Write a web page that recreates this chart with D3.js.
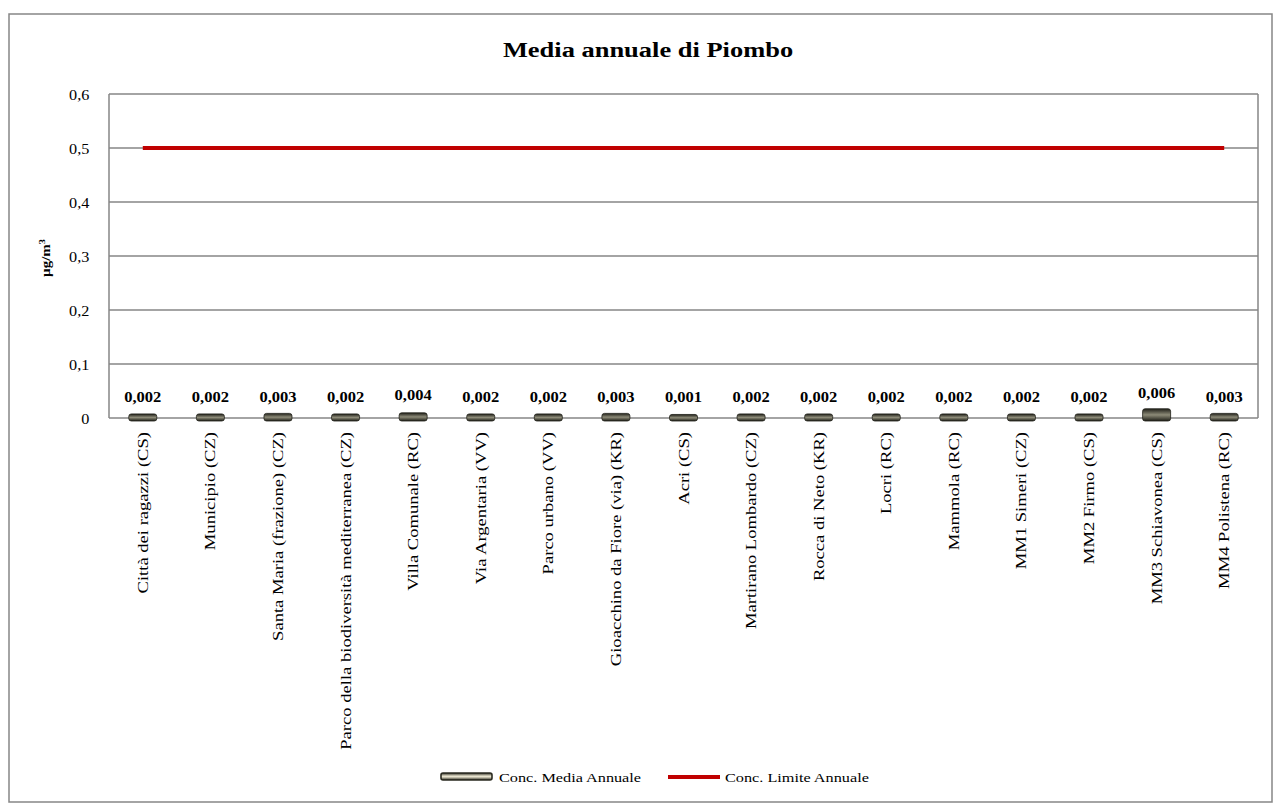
<!DOCTYPE html>
<html><head><meta charset="utf-8">
<script src="https://cdn.jsdelivr.net/npm/d3@7"></script>
<style>body{margin:0;background:#fff}svg{display:block}text{font-family:"Liberation Serif","Times New Roman",serif}</style>
</head><body><svg id="c" width="1274" height="804"></svg>
<script>
const categories = ["Città dei ragazzi (CS)","Municipio (CZ)","Santa Maria (frazione) (CZ)","Parco della biodiversità mediterranea (CZ)","Villa Comunale (RC)","Via Argentaria (VV)","Parco urbano (VV)","Gioacchino da Fiore (via) (KR)","Acri (CS)","Martirano Lombardo (CZ)","Rocca di Neto (KR)","Locri (RC)","Mammola (RC)","MM1 Simeri (CZ)","MM2 Firmo (CS)","MM3 Schiavonea (CS)","MM4 Polistena (RC)"];
const mediaAnnuale = [0.002,0.002,0.003,0.002,0.004,0.002,0.002,0.003,0.001,0.002,0.002,0.002,0.002,0.002,0.002,0.006,0.003];
const limiteAnnuale = [0.5,0.5,0.5,0.5,0.5,0.5,0.5,0.5,0.5,0.5,0.5,0.5,0.5,0.5,0.5,0.5,0.5];
const yTicks = [0,0.1,0.2,0.3,0.4,0.5,0.6];
const valueLabels = ["0,002","0,002","0,003","0,002","0,004","0,002","0,002","0,003","0,001","0,002","0,002","0,002","0,002","0,002","0,002","0,006","0,003"];

const svg = d3.select("#c");
const defs = svg.append("defs");
const g1 = defs.append("linearGradient").attr("id","barg").attr("x1",0).attr("x2",0).attr("y1",0).attr("y2",1);
g1.append("stop").attr("offset","0%").attr("stop-color","#1f1f18");
g1.append("stop").attr("offset","50%").attr("stop-color","#8d8b78");
g1.append("stop").attr("offset","100%").attr("stop-color","#1f1f18");
const g2 = defs.append("linearGradient").attr("id","legg").attr("x1",0).attr("x2",0).attr("y1",0).attr("y2",1);
g2.append("stop").attr("offset","0%").attr("stop-color","#2a2a20");
g2.append("stop").attr("offset","45%").attr("stop-color","#e9e4cf");
g2.append("stop").attr("offset","55%").attr("stop-color","#e9e4cf");
g2.append("stop").attr("offset","100%").attr("stop-color","#2a2a20");

const L=109, R=1258, T=94, B=418;
svg.append("rect").attr("x",9).attr("y",14).attr("width",1263).attr("height",788).attr("fill","#fff").attr("stroke","#868686").attr("stroke-width",1.5);

const x = d3.scaleBand().domain(categories).range([L,R]);
const y = d3.scaleLinear().domain([0,0.6]).range([B,T]);

// grid
svg.append("g").selectAll("line").data(yTicks).join("line")
  .attr("x1",L).attr("x2",R).attr("y1",d=>y(d)).attr("y2",d=>y(d))
  .attr("stroke","#868686").attr("stroke-width",1.5);
svg.append("line").attr("x1",L).attr("x2",L).attr("y1",T).attr("y2",B).attr("stroke","#868686").attr("stroke-width",1.5);
svg.append("line").attr("x1",R).attr("x2",R).attr("y1",T).attr("y2",B).attr("stroke","#868686").attr("stroke-width",1.5);

// y axis labels
const yAxis = d3.axisLeft(y).tickValues(yTicks).tickSize(0).tickPadding(17).tickFormat(d=> d===0?"0":String(d).replace(".",","));
const gy = svg.append("g").attr("transform",`translate(${L},0)`).call(yAxis);
gy.select(".domain").remove();
gy.selectAll("text").attr("font-family","Liberation Serif").attr("font-size",15).attr("fill","#000").attr("dy","0.34em");
gy.selectAll(".tick text").attr("transform", function(){ const tx=+d3.select(this).attr("x"); return `translate(${tx*0.08},0) scale(1.08,1)`; });

// bars
const bw = 28;
const extra = v => v>=0.005 ? 3 : 0;
svg.append("g").selectAll("rect").data(categories).join("rect")
  .attr("x",d=>x(d)+x.bandwidth()/2-bw/2)
  .attr("y",(d,i)=>y(mediaAnnuale[i]) - 3 - extra(mediaAnnuale[i]))
  .attr("width",bw)
  .attr("height",(d,i)=>B-y(mediaAnnuale[i]) + 6 + extra(mediaAnnuale[i]))
  .attr("rx",2.5)
  .attr("fill","url(#barg)").attr("stroke","#1f1f18").attr("stroke-width",0.8);

// value labels
svg.append("g").selectAll("text").data(categories).join("text")
  .attr("transform",(d,i)=>`translate(${x(d)+x.bandwidth()/2},${402 - (mediaAnnuale[i]>=0.004 ? (mediaAnnuale[i]>=0.006?4:2) : 0)}) scale(1.18,1)`)
  .attr("text-anchor","middle").attr("font-size",14).attr("font-weight","bold")
  .text((d,i)=>valueLabels[i]);

// limit line
const line = d3.line().x((d,i)=>x(categories[i])+x.bandwidth()/2).y(d=>y(d));
svg.append("path").datum(limiteAnnuale).attr("d",line).attr("fill","none").attr("stroke","#c00000").attr("stroke-width",4);

// x labels
svg.append("g").selectAll("text").data(categories).join("text")
  .attr("transform",d=>`translate(${x(d)+x.bandwidth()/2+5},432) rotate(-90) scale(1.24,1)`)
  .attr("text-anchor","end").attr("font-size",15).text(d=>d);

// title
svg.append("text").attr("transform","translate(648,57) scale(1.26,1)").attr("text-anchor","middle").attr("font-size",21).attr("font-weight","bold").text("Media annuale di Piombo");

// y title
const yt = svg.append("text").attr("transform","translate(50,258) rotate(-90) scale(1.15,1)").attr("text-anchor","middle").attr("font-size",13).attr("font-weight","bold");
yt.append("tspan").text("µg/m");
yt.append("tspan").attr("dy",-5).attr("font-size",9).text("3");

// legend
svg.append("rect").attr("x",441).attr("y",773).attr("width",51).attr("height",7).attr("rx",2).attr("fill","url(#legg)").attr("stroke","#2a2a20").attr("stroke-width",1.6);
svg.append("text").attr("transform","translate(499,782) scale(1.25,1)").attr("font-size",13).text("Conc. Media Annuale");
svg.append("line").attr("x1",668).attr("x2",720).attr("y1",777).attr("y2",777).attr("stroke","#c00000").attr("stroke-width",4);
svg.append("text").attr("transform","translate(725,782) scale(1.25,1)").attr("font-size",13).text("Conc. Limite Annuale");
</script></body></html>
